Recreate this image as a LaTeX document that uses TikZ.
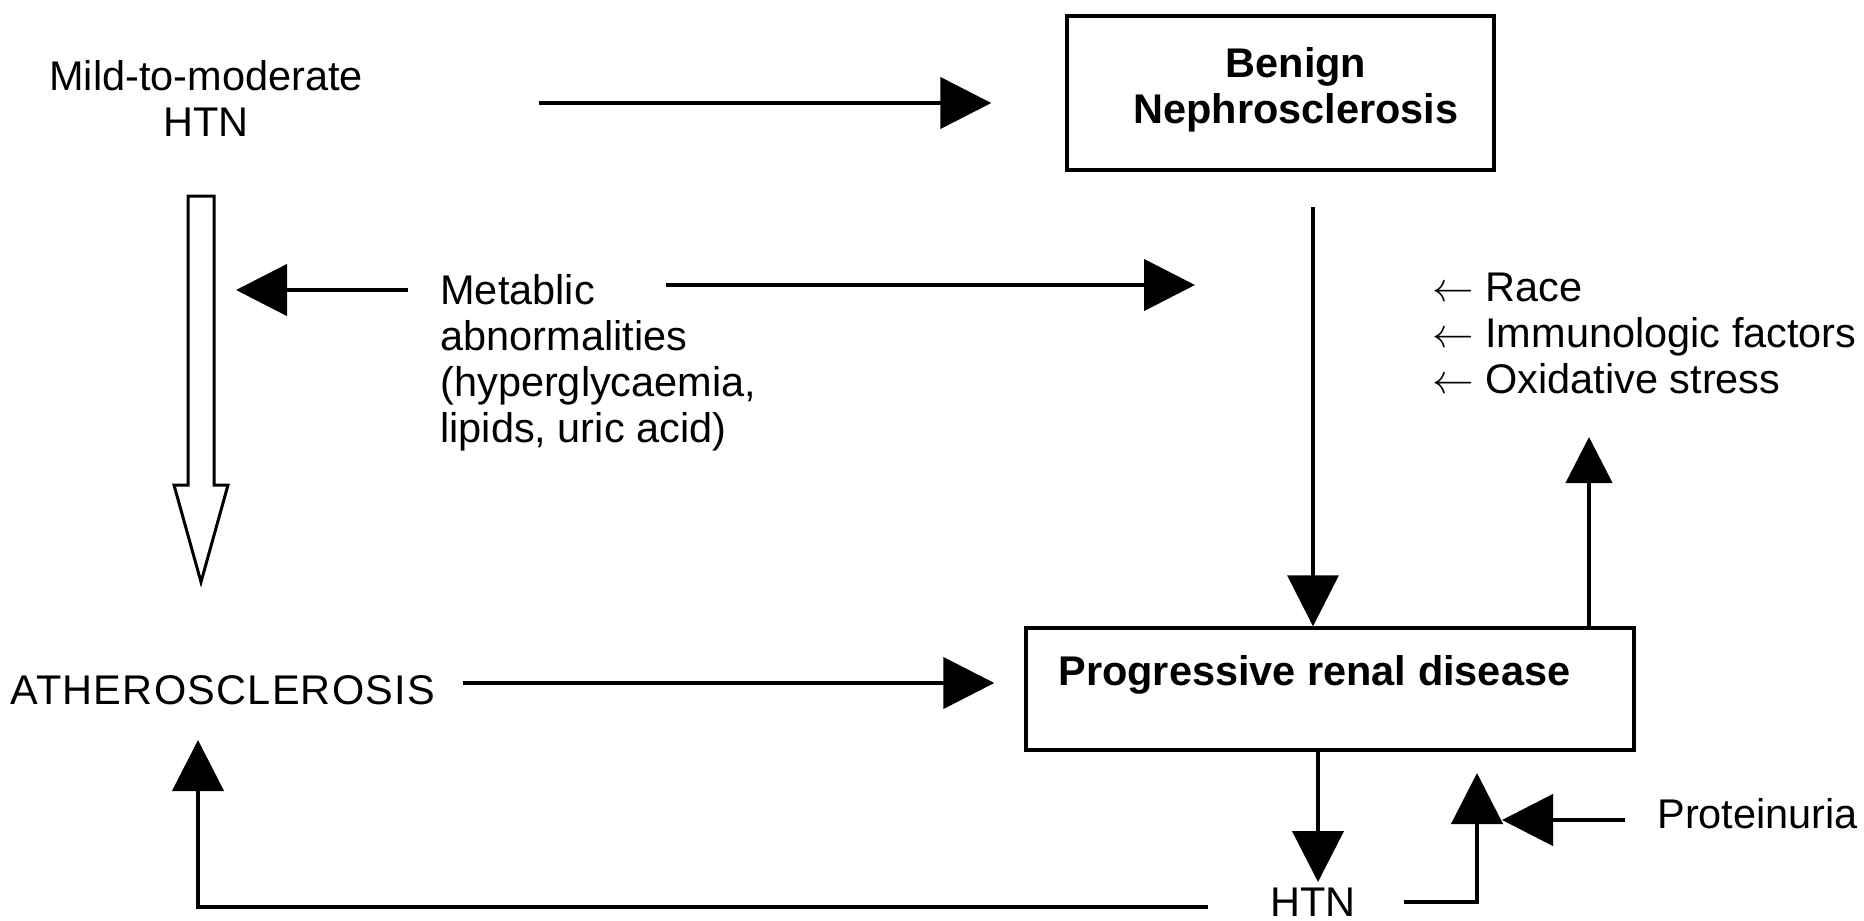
\documentclass[tikz,border=0pt]{standalone}
\usepackage{fontspec}
\setmainfont{Liberation Sans}
\usetikzlibrary{arrows.meta}
\tikzset{
  txt/.style={inner sep=0pt, font=\fontsize{20.74}{23}\selectfont},
  btxt/.style={inner sep=0pt, font=\fontsize{20.74}{23}\selectfont\bfseries},
  box/.style={draw, line width=1.7pt, inner sep=0pt},
  conn/.style={line width=2.2pt, -{Triangle[length=25.5pt,width=25.5pt]}},
  hollow/.style={line width=1.5pt, fill=white, line join=miter},
}
\begin{document}
\begin{tikzpicture}[x=0.5pt,y=-0.5pt]
\fill[white] (0,0) rectangle (1864,921);
\useasboundingbox (0,0) rectangle (1864,921);
% texts and boxes
\node[txt, align=center, anchor=north] (mild) at (206,60) {Mild-to-moderate\\HTN};
\node[box, minimum width=213.5pt, minimum height=77pt] (benign) at (1280.5,93) {};
\node[btxt, align=center, anchor=north] (benigntxt) at (1296,47) {Benign\\Nephrosclerosis};
\node[txt, align=left, anchor=north west] (metab) at (440,274) {Metablic\\abnormalities\\(hyperglycaemia,\\lipids, uric acid)};
\node[txt, align=left, anchor=north west] (factors) at (1432,273) {$\leftarrow$ Race\\$\leftarrow$ Immunologic factors\\$\leftarrow$ Oxidative stress};
\node[txt, anchor=base west, font=\fontsize{20.74}{23}\selectfont\addfontfeatures{LetterSpace=3}] (athero) at (10,704) {ATHEROSCLEROSIS};
\node[box, minimum width=304pt, minimum height=61pt] (prog) at (1330,689) {};
\node[btxt, anchor=base west] (progtxt) at (1058,685) {Progressive renal disease};
\node[txt, anchor=base] (htn) at (1313,916) {HTN};
\node[txt, anchor=base west] (prot) at (1657,828) {Proteinuria};
% connector end points
\coordinate (a1) at (539,103);
\coordinate (b1) at (236,290);
\coordinate (c0) at (666,285);
\coordinate (c1) at (1195,285);
\coordinate (d1) at (1313,207);
\coordinate (e1) at (1589,437);
\coordinate (f1) at (463,683);
\coordinate (g1) at (1318,882);
\coordinate (h1) at (198,740);
\coordinate (i1) at (1477,773);
\coordinate (j1) at (1502,820);
\coordinate (hollowtop) at (201,196);
% connectors
\draw[conn, shorten >=37pt] (a1) -- (a1 -| benign.west);
\draw[conn, shorten <=16pt] (b1 -| metab.west) -- (b1);
\draw[conn] (c0) -- (c1);
\draw[conn, line width=1.6pt] (d1) -- (d1 |- prog.north);
\draw[line width=2.2pt, -{Triangle[length=23pt,width=23pt]}] (e1 |- prog.north) -- (e1);
\draw[conn, shorten >=15pt] (f1) -- (f1 -| prog.west);
\draw[conn] (g1 |- prog.south) -- (g1);
\draw[conn, shorten <=31pt] ([yshift=-2.5pt]htn.west) -| (h1);
\draw[conn, shorten <=24pt] (htn.east) -| (i1);
\draw[conn, shorten <=16pt] (j1 -| prot.west) -- (j1);
% hollow arrow from Mild-to-moderate HTN to ATHEROSCLEROSIS
\draw[hollow] (hollowtop) ++(-13,0) -- ++(26,0) -- ++(0,289) -- ++(14,0)
  -- ++(-27,97) -- ++(-27,-97) -- ++(14,0) -- cycle;
\end{tikzpicture}
\end{document}
